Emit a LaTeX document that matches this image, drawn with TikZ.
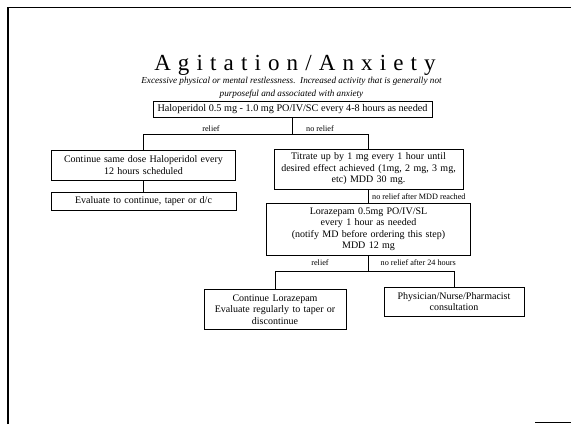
\documentclass[tikz,border=0pt]{standalone}
\usepackage{fontspec}
\setmainfont{Liberation Serif}
\begin{document}
\begin{tikzpicture}[x=1pt,y=-1pt,
  box/.style={draw, line width=1pt, align=center, inner sep=1pt,
    font=\fontsize{10}{11.5}\selectfont},
  conn/.style={line width=1pt},
  lbl/.style={font=\fontsize{8.2}{9}\selectfont, inner sep=0pt}]
\useasboundingbox (0,0) rectangle (571,424);
\draw[line width=1.2pt] (8,424) -- (8,7.5) -- (571,7.5);
\draw[line width=1pt] (535,422) -- (571,422);

\node[anchor=base, inner sep=0pt] (title) at (295,70)
  {\fontsize{23}{26}\selectfont\addfontfeature{LetterSpace=31}Agitation/Anxiety};
\node[align=center, inner sep=0pt, font=\fontsize{9.2}{13.3}\selectfont\itshape] (sub) at (291.5,87.7)
  {Excessive physical or mental restlessness.\ \ Increased activity that is generally not\\
   purposeful and associated with anxiety};

\node[box, minimum width=279, minimum height=15.7, font=\fontsize{10.2}{11.5}\selectfont] (top) at (292.5,109.5)
  {Haloperidol 0.5 mg - 1.0 mg PO/IV/SC every 4-8 hours as needed};

\node[box, minimum width=184, minimum height=30, text width=180] (left1) at (143.5,165)
  {Continue same dose Haloperidol every\\12 hours scheduled};
\node[box, minimum width=189, minimum height=40, text width=185] (right1) at (368.5,169)
  {Titrate up by 1 mg every 1 hour until\\desired effect achieved (1mg, 2 mg, 3 mg,\\etc) MDD 30 mg.};
\node[box, minimum width=185, minimum height=17.7, text width=181] (eval) at (143.5,201.2)
  {Evaluate to continue, taper or d/c};
\node[box, minimum width=203.5, minimum height=51.7, text width=199] (lor) at (368.5,229.2)
  {Lorazepam 0.5mg PO/IV/SL\\every 1 hour as needed\\(notify MD before ordering this step)\\MDD 12 mg};
\node[box, minimum width=142, minimum height=40, text width=138] (cont) at (275,309.3)
  {Continue Lorazepam\\Evaluate regularly to taper or\\discontinue};
\node[box, minimum width=140, minimum height=28.7, text width=136] (phys) at (454,301.7)
  {Physician/Nurse/Pharmacist\\consultation};

\coordinate (j1) at (top.south |- 0,134);
\coordinate (j2) at (368.5,271.7);
\draw[conn] (top.south) -- (j1);
\draw[conn] (left1.north) |- (j1);
\draw[conn] (j1) -| (right1.north);
\draw[conn] (left1.south) -- (eval.north);
\draw[conn] (right1.south) -- (lor.north);
\draw[conn] (lor.south) -- (j2);
\draw[conn] (cont.north) |- (j2);
\draw[conn] (j2) -| (phys.north);

\node[lbl] (l1) at (211,129) {relief};
\node[lbl] (l2) at (320,129) {no relief};
\node[lbl, anchor=west] (l3) at (372,196.7) {no relief after MDD reached};
\node[lbl] (l4) at (320,262.3) {relief};
\node[lbl, anchor=west] (l5) at (380.5,262.3) {no relief after 24 hours};
\end{tikzpicture}
\end{document}
